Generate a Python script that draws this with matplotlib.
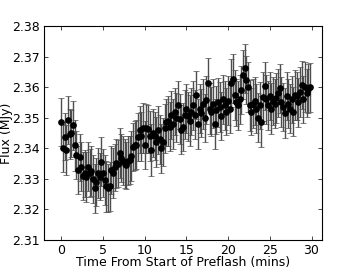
import numpy as np
import matplotlib
matplotlib.use("Agg")
import matplotlib.pyplot as plt

# sampling cadence of the preflash series (mins)
cadence = 0.2

flux = [
    2.3487, 2.3401, 2.3438, 2.3394, 2.3493, 2.3446, 2.3449, 2.3476, 2.3410, 2.3378,
    2.3329, 2.3371, 2.3340, 2.3310, 2.3318, 2.3307, 2.3340, 2.3320, 2.3325, 2.3300,
    2.3269, 2.3290, 2.3320, 2.3307, 2.3356, 2.3320, 2.3297, 2.3275, 2.3270, 2.3275,
    2.3329, 2.3320, 2.3338, 2.3351, 2.3350, 2.3384, 2.3368, 2.3360, 2.3350, 2.3345,
    2.3360, 2.3362, 2.3375, 2.3405, 2.3410, 2.3412, 2.3438, 2.3460, 2.3440, 2.3465,
    2.3410, 2.3465, 2.3462, 2.3440, 2.3394, 2.3450, 2.3440, 2.3420, 2.3460, 2.3430,
    2.3400, 2.3420, 2.3465, 2.3485, 2.3490, 2.3470, 2.3509, 2.3480, 2.3520, 2.3500,
    2.3542, 2.3495, 2.3460, 2.3470, 2.3510, 2.3530, 2.3505, 2.3490, 2.3520, 2.3540,
    2.3510, 2.3574, 2.3480, 2.3530, 2.3515, 2.3545, 2.3500, 2.3558, 2.3614, 2.3530,
    2.3520, 2.3545, 2.3480, 2.3525, 2.3550, 2.3535, 2.3505, 2.3560, 2.3540, 2.3520,
    2.3555, 2.3530, 2.3613, 2.3627, 2.3574, 2.3550, 2.3540, 2.3560, 2.3590, 2.3640,
    2.3662, 2.3623, 2.3600, 2.3540, 2.3520, 2.3545, 2.3555, 2.3530, 2.3500, 2.3540,
    2.3487, 2.3569, 2.3604, 2.3560, 2.3540, 2.3570, 2.3530, 2.3555, 2.3545, 2.3565,
    2.3580, 2.3596, 2.3550, 2.3535, 2.3515, 2.3570, 2.3545, 2.3530, 2.3560, 2.3520,
    2.3575, 2.3570, 2.3550, 2.3585, 2.3607, 2.3560, 2.3600, 2.3580, 2.3595, 2.3600,
]

flux_err = [
    0.0078, 0.0080, 0.0076, 0.0082, 0.0079, 0.0081, 0.0077, 0.0080, 0.0083, 0.0078,
    0.0080, 0.0077, 0.0081, 0.0079, 0.0076, 0.0082, 0.0080, 0.0078, 0.0081, 0.0079,
    0.0080, 0.0078, 0.0082, 0.0077, 0.0080, 0.0079, 0.0081, 0.0083, 0.0078, 0.0080,
    0.0079, 0.0081, 0.0077, 0.0080, 0.0078, 0.0082, 0.0079, 0.0080, 0.0081, 0.0077,
    0.0080, 0.0079, 0.0082, 0.0078, 0.0080, 0.0081, 0.0079, 0.0077, 0.0080, 0.0082,
    0.0079, 0.0080, 0.0078, 0.0081, 0.0084, 0.0080, 0.0079, 0.0082, 0.0078, 0.0080,
    0.0081, 0.0079, 0.0080, 0.0077, 0.0082, 0.0080, 0.0079, 0.0081, 0.0078, 0.0080,
    0.0079, 0.0082, 0.0080, 0.0078, 0.0081, 0.0079, 0.0080, 0.0083, 0.0078, 0.0080,
    0.0081, 0.0079, 0.0082, 0.0080, 0.0078, 0.0081, 0.0079, 0.0080, 0.0080, 0.0082,
    0.0079, 0.0080, 0.0081, 0.0078, 0.0080, 0.0082, 0.0079, 0.0081, 0.0080, 0.0078,
    0.0080, 0.0081, 0.0079, 0.0080, 0.0082, 0.0078, 0.0080, 0.0081, 0.0079, 0.0080,
    0.0080, 0.0079, 0.0081, 0.0082, 0.0078, 0.0080, 0.0079, 0.0081, 0.0080, 0.0078,
    0.0084, 0.0080, 0.0079, 0.0081, 0.0080, 0.0078, 0.0082, 0.0079, 0.0080, 0.0081,
    0.0079, 0.0080, 0.0082, 0.0078, 0.0081, 0.0079, 0.0080, 0.0081, 0.0078, 0.0080,
    0.0081, 0.0079, 0.0080, 0.0082, 0.0080, 0.0078, 0.0081, 0.0079, 0.0080, 0.0080,
]

time = np.arange(len(flux)) * cadence

plt.rcParams['font.family'] = ['DejaVu Sans']
plt.rcParams['font.size'] = 9

fig = plt.figure(figsize=(3.57, 2.68), dpi=100)
ax = fig.add_axes([0.123, 0.1045, 0.7776, 0.7985])

ax.errorbar(time, flux, yerr=flux_err, fmt='o', color='black', ms=3.8,
            ecolor='0.3', elinewidth=1.0, capsize=2.5, capthick=0.5)

ax.set_xlim(-2.1, 31.2)
ax.set_ylim(2.31, 2.38)
ax.set_xticks([0, 5, 10, 15, 20, 25, 30])
ax.set_yticks(np.arange(2.31, 2.3801, 0.01))
ax.set_yticklabels(["%.2f" % v for v in np.arange(2.31, 2.3801, 0.01)])
ax.tick_params(direction='in', top=True, right=True, length=3, width=0.5, pad=3)
for s in ax.spines.values():
    s.set_linewidth(0.8)

ax.set_xlabel("Time From Start of Preflash (mins)", labelpad=-1)
ax.set_ylabel("Flux (MJy)", labelpad=-1)

fig.savefig("out.png", dpi=100)
